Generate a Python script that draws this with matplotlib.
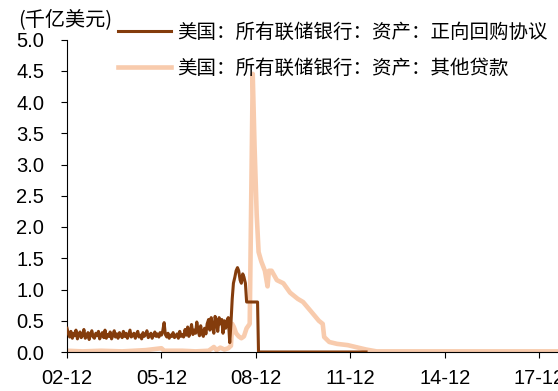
import matplotlib
matplotlib.use("Agg")
import matplotlib.pyplot as plt
import matplotlib.dates as mdates
import pandas as pd

plt.rcParams['font.family'] = ['Liberation Sans', 'Noto Sans CJK SC', 'DejaVu Sans']

unit_label = "(千亿美元)"
label_repo = "美国：所有联储银行：资产：正向回购协议"
label_loans = "美国：所有联储银行：资产：其他贷款"

# ---- Series 1: repurchase agreements (semi-monthly 2002-12 .. 2007-12, then explicit) ----
repo_noisy_start = "2002-12-01"
repo_noisy_end = "2007-12-16"
repo_noisy_values = [
    0.38, 0.30,
    0.24, 0.33, 0.22, 0.30, 0.26, 0.35, 0.21, 0.28, 0.32, 0.23, 0.27, 0.36,
    0.22, 0.25, 0.31, 0.20, 0.29, 0.34, 0.24, 0.22, 0.30, 0.26, 0.33, 0.21,
    0.27, 0.31, 0.23, 0.35, 0.22, 0.28, 0.25, 0.32, 0.21, 0.26, 0.34, 0.24,
    0.29, 0.22, 0.31, 0.27, 0.23, 0.33, 0.25, 0.30, 0.22, 0.28, 0.35, 0.24,
    0.26, 0.30, 0.22, 0.29, 0.33, 0.24, 0.27, 0.21, 0.31, 0.25, 0.28, 0.34,
    0.23, 0.26, 0.30, 0.22, 0.27, 0.32, 0.25, 0.29, 0.24, 0.31, 0.27, 0.33,
    0.47, 0.28, 0.24, 0.30, 0.22, 0.27, 0.25, 0.31, 0.23, 0.26, 0.29, 0.22,
    0.33, 0.25, 0.28, 0.24, 0.36, 0.27, 0.40, 0.25, 0.32, 0.44, 0.28, 0.35,
    0.30, 0.48, 0.33, 0.26, 0.42, 0.30, 0.25, 0.38, 0.29, 0.45, 0.52, 0.35,
    0.55, 0.40, 0.30, 0.57, 0.48, 0.33, 0.55, 0.45, 0.52, 0.30, 0.50, 0.38,
]
repo_late_dates = [
    "2008-01-01", "2008-01-15", "2008-02-01", "2008-02-15", "2008-03-01",
    "2008-03-15", "2008-04-01", "2008-04-15", "2008-05-01", "2008-05-15",
    "2008-06-01", "2008-06-15", "2008-07-01", "2008-07-15", "2008-08-01",
    "2008-08-15", "2008-12-20", "2008-12-31", "2012-06-01",
]
repo_late_values = [
    0.50, 0.55, 0.15, 0.45, 0.85,
    1.10, 1.20, 1.30, 1.35, 1.30,
    1.15, 1.10, 1.25, 1.20, 1.10,
    0.80, 0.80, 0.00, 0.00,
]

# ---- Series 2: other loans ----
loans_dates = [
    "2002-12-01", "2003-06-01", "2004-01-01", "2004-09-01", "2005-06-01",
    "2005-12-01", "2006-01-01", "2006-08-01", "2007-01-01", "2007-06-01",
    "2007-08-01", "2007-09-01", "2007-10-15", "2007-12-01", "2008-01-15",
    "2008-02-15", "2008-03-01", "2008-03-20", "2008-04-15", "2008-05-15",
    "2008-06-15", "2008-07-15", "2008-08-15", "2008-09-20", "2008-10-08",
    "2008-10-25", "2008-11-15", "2008-12-10", "2009-01-01", "2009-02-01",
    "2009-03-15", "2009-04-15", "2009-05-01", "2009-06-01", "2009-08-01",
    "2009-10-15", "2010-01-01", "2010-04-01", "2010-06-01", "2010-09-01",
    "2010-12-01", "2011-01-15", "2011-02-01", "2011-04-01", "2011-07-01",
    "2011-11-01", "2012-03-01", "2012-06-01", "2012-10-01", "2018-07-07",
]
loans_values = [
    0.02, 0.01, 0.02, 0.01, 0.03,
    0.06, 0.02, 0.02, 0.01, 0.02,
    0.08, 0.03, 0.07, 0.04, 0.06,
    0.10, 0.45, 0.40, 0.30, 0.25,
    0.22, 0.25, 0.38, 0.45, 2.50,
    4.45, 3.30, 2.20, 1.60, 1.45,
    1.30, 1.05, 1.30, 1.30, 1.15,
    1.10, 0.95, 0.85, 0.80, 0.65,
    0.50, 0.45, 0.24, 0.16, 0.13,
    0.11, 0.07, 0.04, 0.01, 0.01,
]

x_ticks = ["2002-12-01", "2005-12-01", "2008-12-01", "2011-12-01", "2014-12-01", "2017-12-01"]
y_ticks = [0.0, 0.5, 1.0, 1.5, 2.0, 2.5, 3.0, 3.5, 4.0, 4.5, 5.0]
x_range = ["2002-12-01", "2018-07-07"]

repo_dates = list(pd.date_range(repo_noisy_start, repo_noisy_end, freq="SMS")) + list(pd.to_datetime(repo_late_dates))
repo_values = repo_noisy_values + repo_late_values

BROWN = "#843C0C"
PINK = "#F8CBAD"

fig = plt.figure(figsize=(5.58, 3.91), dpi=100)
ax = fig.add_axes([67 / 558, 39 / 391, 1 - 67 / 558, (352 - 39.5) / 391])

l2, = ax.plot(pd.to_datetime(loans_dates), loans_values, color=PINK, lw=3.3, zorder=2,
              solid_joinstyle="round")
l1, = ax.plot(repo_dates, repo_values, color=BROWN, lw=2.2, zorder=3, solid_joinstyle="round")

ax.set_xlim(pd.to_datetime(x_range[0]), pd.to_datetime(x_range[1]))
ax.set_ylim(0, 5.0)
ax.set_yticks(y_ticks)
ax.set_yticklabels([f"{v:.1f}" for v in y_ticks])
ax.set_xticks(pd.to_datetime(x_ticks))
ax.xaxis.set_major_formatter(mdates.DateFormatter("%y-%m"))
ax.minorticks_off()

for s in ["top", "right"]:
    ax.spines[s].set_visible(False)
for s in ["left", "bottom"]:
    ax.spines[s].set_color("black")
    ax.spines[s].set_linewidth(0.8)

ax.tick_params(axis="y", direction="out", length=4.5, width=0.8, pad=12, labelsize=14.5)
ax.tick_params(axis="x", direction="out", length=4.0, width=0.8, pad=8, labelsize=14.5)

fig.text(18 / 558, 1 - 20 / 391, unit_label, ha="left", va="center", fontsize=14.5,
         family=["Noto Sans CJK SC", "DejaVu Sans"])

leg = fig.legend([l1, l2], [label_repo, label_loans], loc="upper left",
                 bbox_to_anchor=(118 / 558, 1 - 22 / 391), frameon=False,
                 borderpad=0, borderaxespad=0, handlelength=2.75, handletextpad=0.3,
                 labelspacing=0.75, prop={"family": ["Noto Sans CJK SC", "DejaVu Sans"], "size": 14})

fig.savefig("out.png", dpi=100)
